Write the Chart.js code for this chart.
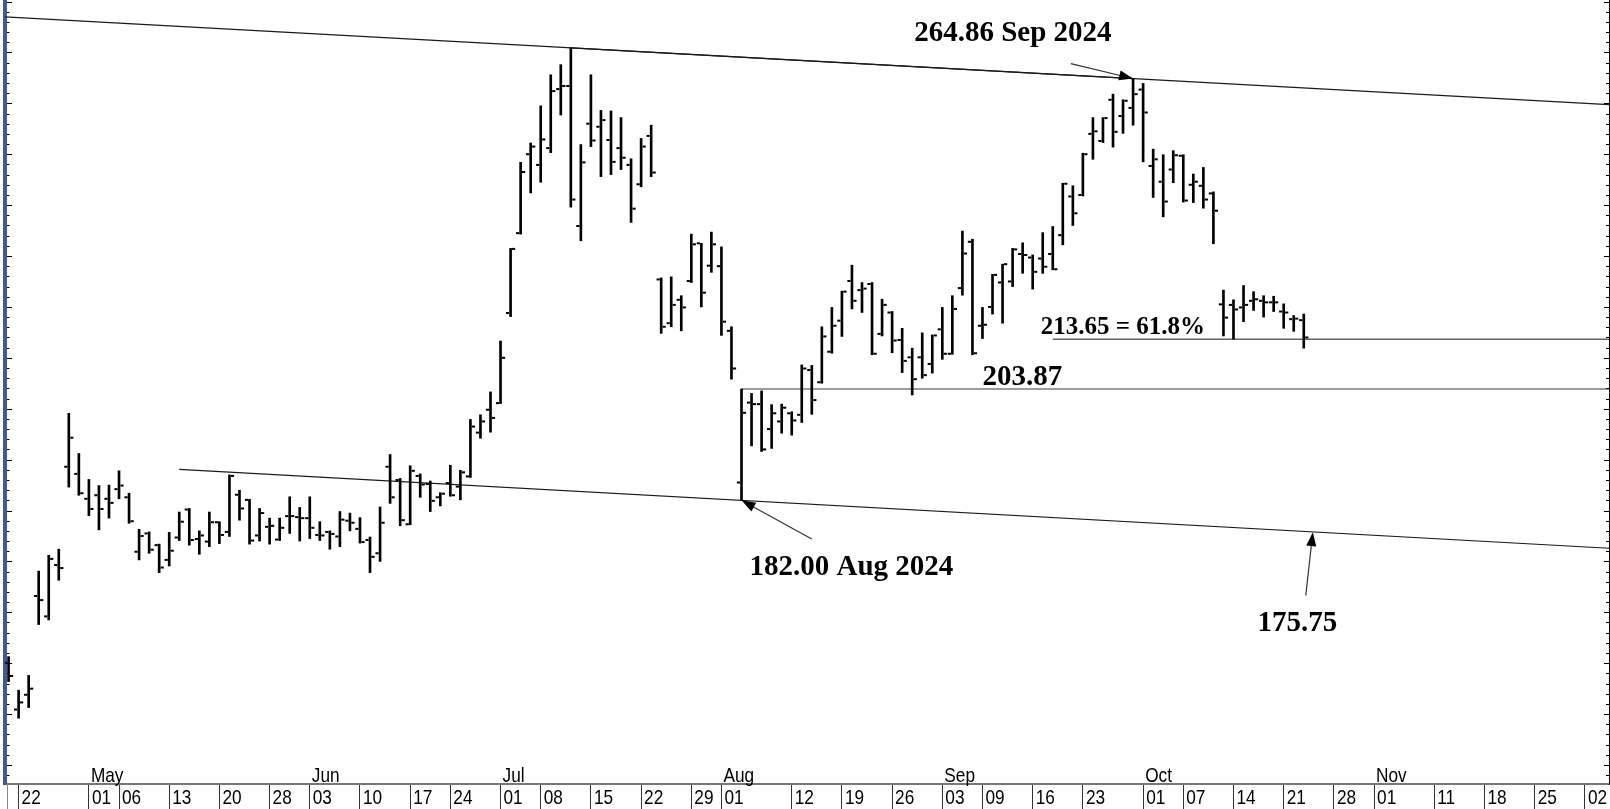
<!DOCTYPE html>
<html>
<head>
<meta charset="utf-8">
<script src="https://cdn.jsdelivr.net/npm/chart.js@4.4.1/dist/chart.umd.min.js"></script>
<style>
  html, body { margin: 0; padding: 0; background: #fff; }
  #wrap { width: 1610px; height: 809px; }
</style>
</head>
<body>
<div id="wrap"><canvas id="c" width="1610" height="809"></canvas></div>
<script>
// ---------- DATA ----------
// Trading days shown on the axis (future weekdays included after the data)
const tradingDays = {
  '2024-04': [19,22,23,24,25,26,29,30],
  '2024-05': [1,2,3,6,7,8,9,10,13,14,15,16,17,20,21,22,23,24,28,29,30,31],
  '2024-06': [3,4,5,6,7,10,11,12,13,14,17,18,20,21,24,25,26,27,28],
  '2024-07': [1,2,3,5,8,9,10,11,12,15,16,17,18,19,22,23,24,25,26,29,30,31],
  '2024-08': [1,2,5,6,7,8,9,12,13,14,15,16,19,20,21,22,23,26,27,28,29,30],
  '2024-09': [3,4,5,6,9,10,11,12,13,16,17,18,19,20,23,24,25,26,27,30],
  '2024-10': [1,2,3,4,7,8,9,10,11,14,15,16,17,18,21,22,23,24,25,28,29,30,31],
  '2024-11': [1,4,5,6,7,8,11,12,13,14,15,18,19,20,21,22,25,26,27,28,29],
  '2024-12': [2]
};

// OHLC values, one per trading day starting 2024-04-19
const openV = [150.1,140.9,143.8,163.2,159.2,169.3,188.6,187.2,182.3,183.0,182.3,184.2,182.6,171.9,175.5,173.2,170.3,174.7,180.2,174.4,
  173.9,177.7,175.8,183.1,182.1,175.1,176.8,174.3,178.9,178.7,178.5,175.2,175.8,174.9,178.0,176.4,174.2,171.6,188.6,186.0,
  177.3,186.8,185.2,182.6,185.4,184.7,186.7,195.3,199.8,201.1,218.8,234.5,250.0,247.9,251.2,262.8,263.4,235.9,256.0,255.4,
  252.8,251.2,247.9,244.1,253.6,225.4,216.8,221.4,225.1,232.5,228.1,228.0,215.3,185.5,201.2,200.9,196.0,197.5,199.1,198.8,
  207.6,205.2,211.2,217.3,225.1,223.3,224.5,214.7,218.9,213.5,210.1,210.1,208.8,215.6,210.8,223.7,232.8,216.3,220.0,224.8,
  225.0,230.4,229.7,229.5,230.4,234.1,241.7,242.0,254.0,252.6,260.7,257.5,259.1,262.7,247.7,244.6,247.0,249.7,244.0,243.8,
  242.3,220.5,220.4,219.9,221.2,221.2,220.9,219.1,217.6,217.4];
const highV = [151.3,144.7,147.6,168.1,171.2,172.4,199.1,191.2,186.1,184.9,185.0,187.8,183.4,176.3,175.8,173.4,175.7,179.7,180.4,176.0,
  179.7,177.8,187.0,184.0,182.2,180.4,178.5,178.5,182.7,180.6,182.7,177.8,176.0,179.8,179.5,178.6,174.8,180.7,191.0,186.3,
  188.8,187.2,185.8,183.5,188.9,187.9,197.9,198.8,203.3,213.3,231.5,248.4,252.2,259.5,265.6,267.6,270.9,251.9,265.6,258.6,
  258.5,257.2,249.1,253.1,255.7,225.7,225.9,222.2,234.3,232.5,234.7,231.8,216.1,203.87,203.0,203.5,200.8,200.9,199.4,208.6,
  208.5,216.1,219.9,223.1,228.2,224.8,224.8,221.5,219.1,215.8,211.9,214.9,214.5,219.9,222.2,234.9,233.3,219.9,226.4,228.4,
  231.5,232.6,230.2,234.6,235.8,244.3,243.8,250.2,257.2,257.2,261.8,260.7,264.86,263.9,251.0,249.9,250.7,249.9,246.1,247.4,
  242.6,223.3,221.4,224.2,223.0,222.2,222.1,220.6,218.3,218.6];
const lowV = [146.4,139.2,141.3,157.6,158.5,166.3,184.6,183.0,179.0,176.2,178.5,182.3,177.5,170.3,171.6,167.8,169.1,174.1,173.2,171.4,
  172.9,173.5,174.9,178.1,173.4,174.0,173.4,174.1,175.5,174.0,174.5,174.1,172.4,172.9,176.0,173.6,167.8,170.0,181.4,177.0,
  177.2,182.6,179.8,180.9,182.8,182.1,186.5,194.2,195.4,201.0,218.1,234.3,242.4,244.5,250.3,257.7,239.6,233.0,251.5,245.6,
  246.0,247.0,236.6,243.6,245.6,214.8,216.1,215.3,224.8,220.0,226.8,214.4,205.8,182.0,192.7,191.6,192.2,195.2,194.8,197.3,
  198.9,205.0,210.9,214.2,219.6,218.9,210.6,214.3,211.0,207.1,202.7,206.0,207.0,209.7,210.7,222.3,210.6,213.8,218.6,216.8,
  224.0,226.6,223.5,226.6,227.3,232.2,236.0,241.8,249.0,252.3,251.4,254.1,255.7,248.5,241.5,237.7,244.4,240.6,240.5,239.4,
  232.4,214.3,213.7,217.1,219.3,218.0,219.1,215.8,215.2,211.9];
const closeV = [147.5,142.3,145.0,162.4,170.5,168.7,194.3,183.4,180.3,180.3,181.5,184.9,177.9,175.0,172.3,168.8,172.1,177.8,174.2,175.1,
  177.7,175.2,186.8,180.4,174.1,179.5,177.0,176.6,178.9,178.5,176.6,175.1,175.4,178.2,177.6,173.8,170.9,177.6,182.6,178.1,
  187.8,185.1,181.9,183.3,183.0,187.5,196.5,197.5,198.2,210.0,231.4,246.5,251.5,252.9,262.4,263.4,241.1,248.4,252.7,256.7,
  248.5,249.3,239.3,251.5,246.4,216.1,220.4,219.9,232.3,222.8,232.3,217.1,207.9,199.2,200.9,192.0,199.1,200.2,197.7,207.9,
  201.7,214.2,216.3,223.0,221.2,223.6,210.8,220.4,213.4,209.4,205.8,206.6,214.4,210.8,219.6,230.5,210.9,216.5,226.3,228.4,
  231.3,230.2,226.9,227.9,227.4,244.2,238.4,250.0,254.5,257.1,254.4,260.5,261.8,258.2,249.0,240.7,249.8,240.9,244.6,241.1,
  238.9,217.9,219.5,220.4,221.5,220.9,220.9,218.9,217.7,214.0];

// Axis labels
const dayTickDates = ['2024-04-22','2024-05-01','2024-05-06','2024-05-13','2024-05-20','2024-05-28','2024-06-03','2024-06-10',
  '2024-06-17','2024-06-24','2024-07-01','2024-07-08','2024-07-15','2024-07-22','2024-07-29','2024-08-01','2024-08-12',
  '2024-08-19','2024-08-26','2024-09-03','2024-09-09','2024-09-16','2024-09-23','2024-10-01','2024-10-07','2024-10-14',
  '2024-10-21','2024-10-28','2024-11-01','2024-11-11','2024-11-18','2024-11-25','2024-12-02'];
const monthLabels = ['May','Jun','Jul','Aug','Sep','Oct','Nov'];
const monthStartDates = ['2024-05-01','2024-06-03','2024-07-01','2024-08-01','2024-09-03','2024-10-01','2024-11-01'];

// Reference levels and annotations ([date, day offset, value])
const highPoints = { julyHigh: ['2024-07-11', 270.9], septHigh: ['2024-09-30', 264.86] };
const lowTrendPoints = [['2024-05-14', 188.1], ['2024-08-05', 182.0]];
const levelLines = [['2024-08-05', 203.87], ['2024-09-18', 213.65]];
const notes = [
  { text: '264.86 Sep 2024', at: ['2024-08-28', 0.2, 272.25], size: 29,
    arrowFrom: ['2024-09-20', -0.2, 267.8], arrowTo: ['2024-09-30', 0, 264.86] },
  { text: '213.65 = 61.8%', at: ['2024-09-16', 0.8, 214.7], size: 25 },
  { text: '203.87', at: ['2024-09-09', 0.0, 204.6], size: 29 },
  { text: '182.00 Aug 2024', at: ['2024-08-05', 0.8, 167.3], size: 29,
    arrowFrom: ['2024-08-14', 0, 174.4], arrowTo: ['2024-08-05', 0, 182.0] },
  { text: '175.75', at: ['2024-10-16', 0.4, 156.3], size: 29,
    arrowFrom: ['2024-10-23', 0.2, 163.3], arrowTo: ['2024-10-23', 0.9, 175.75] }
];

// ---------- BUILD ----------
const dates = [];
Object.keys(tradingDays).forEach(m => tradingDays[m].forEach(d => dates.push(m + '-' + String(d).padStart(2, '0'))));
const idx = d => dates.indexOf(d);

const Y_MIN = 126.27, Y_MAX = 280.3;
const X_MIN = -0.355, X_MAX = 159.4;

const hlData = highV.map((h, i) => ({ x: i, y: [lowV[i], h] }));
const openData = openV.map((o, i) => ({ x: i - 0.3, y: o }));
const closeData = closeV.map((c, i) => ({ x: i + 0.3, y: c }));

function lineThrough(p1, p2, xStart, xEnd) {
  const x1 = idx(p1[0]), x2 = idx(p2[0]);
  const slope = (p2[1] - p1[1]) / (x2 - x1);
  return [{ x: xStart, y: p1[1] + slope * (xStart - x1) }, { x: xEnd, y: p1[1] + slope * (xEnd - x1) }];
}
const upperLine = lineThrough(highPoints.julyHigh, highPoints.septHigh, X_MIN, X_MAX);
const upperSeg = [{ x: idx(highPoints.julyHigh[0]), y: highPoints.julyHigh[1] }, { x: idx(highPoints.septHigh[0]), y: highPoints.septHigh[1] }];
const lowerLine = lineThrough(lowTrendPoints[0], lowTrendPoints[1], idx(lowTrendPoints[0][0]), X_MAX);
const levelData = levelLines.map(l => [{ x: idx(l[0]), y: l[1] }, { x: X_MAX, y: l[1] }]);

const tickIdx = dayTickDates.map(idx);
const tickText = {};
dayTickDates.forEach(d => { tickText[idx(d)] = d.slice(8); });

const lineDs = (data, color, width) => ({ type: 'line', data, borderColor: color, borderWidth: width, pointRadius: 0, fill: false, tension: 0 });
const NARROW = 0.82; // Arial-Narrow-like horizontal compression for axis labels
const AXIS_FONT = '21px "Liberation Sans", Arial, sans-serif';

function narrowText(ctx, text, px, py) {
  ctx.save();
  ctx.translate(px, py);
  ctx.scale(NARROW, 1);
  ctx.fillText(text, 0, 0);
  ctx.restore();
}

const decor = {
  id: 'decor',
  afterDraw(chart) {
    const { ctx, chartArea, scales: { x, y } } = chart;
    ctx.save();
    // inward axis ticks, left and right
    ctx.strokeStyle = '#000';
    ctx.lineWidth = 1;
    ctx.beginPath();
    y.ticks.forEach(t => {
      const py = Math.round(y.getPixelForValue(t.value)) + 0.5;
      const major = Math.round(t.value) % 10 === 0;
      ctx.moveTo(chartArea.left + 2, py); ctx.lineTo(chartArea.left + 2 + (major ? 5 : 2.5), py);
      ctx.moveTo(chartArea.right, py); ctx.lineTo(chartArea.right - (major ? 5 : 3), py);
    });
    ctx.stroke();
    // left edge of the date band
    ctx.strokeStyle = '#888';
    ctx.beginPath();
    ctx.moveTo(chartArea.left + 2.5, chartArea.bottom); ctx.lineTo(chartArea.left + 2.5, chart.height);
    ctx.stroke();
    // day labels (bottom band) and month labels
    ctx.fillStyle = '#000';
    ctx.font = AXIS_FONT;
    ctx.textBaseline = 'alphabetic';
    ctx.textAlign = 'left';
    x.ticks.forEach(t => {
      narrowText(ctx, tickText[t.value] || '', x.getPixelForValue(t.value) + 3, chartArea.bottom + 20);
    });
    monthLabels.forEach((m, i) => {
      narrowText(ctx, m, x.getPixelForValue(idx(monthStartDates[i])) + 2, chartArea.bottom - 2);
    });
    // annotations
    const px = p => x.getPixelForValue(idx(p[0]) + p[1]);
    const py = p => y.getPixelForValue(p[2]);
    notes.forEach(n => {
      ctx.font = 'bold ' + n.size + 'px "Liberation Serif", "Times New Roman", serif';
      ctx.fillStyle = '#000';
      ctx.fillText(n.text, px(n.at), py(n.at));
      if (n.arrowFrom) {
        const fx = px(n.arrowFrom), fy = py(n.arrowFrom);
        const tx = px(n.arrowTo), ty = py(n.arrowTo);
        const a = Math.atan2(ty - fy, tx - fx);
        ctx.strokeStyle = '#333'; ctx.lineWidth = 1.2;
        ctx.beginPath(); ctx.moveTo(fx, fy); ctx.lineTo(tx - 8 * Math.cos(a), ty - 8 * Math.sin(a)); ctx.stroke();
        ctx.beginPath();
        ctx.moveTo(tx, ty);
        ctx.lineTo(tx - 14 * Math.cos(a) + 5 * Math.sin(a), ty - 14 * Math.sin(a) - 5 * Math.cos(a));
        ctx.lineTo(tx - 14 * Math.cos(a) - 5 * Math.sin(a), ty - 14 * Math.sin(a) + 5 * Math.cos(a));
        ctx.closePath(); ctx.fillStyle = '#000'; ctx.fill();
      }
    });
    ctx.restore();
  }
};

const zeroPad = s => { s.paddingTop = 0; s.paddingBottom = 0; s.paddingLeft = 0; s.paddingRight = 0; };

new Chart(document.getElementById('c'), {
  type: 'bar',
  data: {
    datasets: [
      { type: 'bar', data: hlData, backgroundColor: '#000', barThickness: 2, borderWidth: 0 },
      { type: 'scatter', data: openData, pointStyle: 'line', pointRadius: 1.6, pointBorderWidth: 2, pointBorderColor: '#000', borderColor: '#000' },
      { type: 'scatter', data: closeData, pointStyle: 'line', pointRadius: 1.6, pointBorderWidth: 2, pointBorderColor: '#000', borderColor: '#000' },
      lineDs(upperLine, '#1a1a1a', 1.2),
      lineDs(upperSeg, '#1a1a1a', 1.4),
      lineDs(lowerLine, '#1a1a1a', 1.2),
      lineDs(levelData[0], '#3a3a3a', 1.2),
      lineDs(levelData[1], '#666', 1.4)
    ]
  },
  plugins: [decor],
  options: {
    responsive: false,
    animation: false,
    events: [],
    layout: { padding: 0, autoPadding: false },
    plugins: { legend: { display: false }, tooltip: { enabled: false } },
    scales: {
      x: {
        type: 'linear', min: X_MIN, max: X_MAX, offset: false,
        afterFit: s => { s.height = 25; zeroPad(s); },
        afterBuildTicks: s => { s.ticks = tickIdx.map(v => ({ value: v })); },
        ticks: { display: false, autoSkip: false, maxRotation: 0 },
        grid: { drawOnChartArea: false, drawTicks: true, tickLength: 25, color: '#333', lineWidth: 1, offset: false },
        border: { color: '#777', width: 2 }
      },
      y: {
        position: 'left', min: Y_MIN, max: Y_MAX,
        afterFit: s => { s.width = 5; zeroPad(s); },
        afterBuildTicks: s => {
          const t = []; for (let v = 128; v <= 280; v += 2) t.push({ value: v }); s.ticks = t;
        },
        ticks: { display: false },
        grid: { display: false },
        border: { color: '#3d5c8f', width: 4 }
      },
      y2: {
        position: 'right', min: Y_MIN, max: Y_MAX,
        afterFit: s => { s.width = 1; zeroPad(s); },
        ticks: { display: false },
        grid: { display: false },
        border: { color: '#000', width: 1 }
      }
    }
  }
});
</script>
</body>
</html>
